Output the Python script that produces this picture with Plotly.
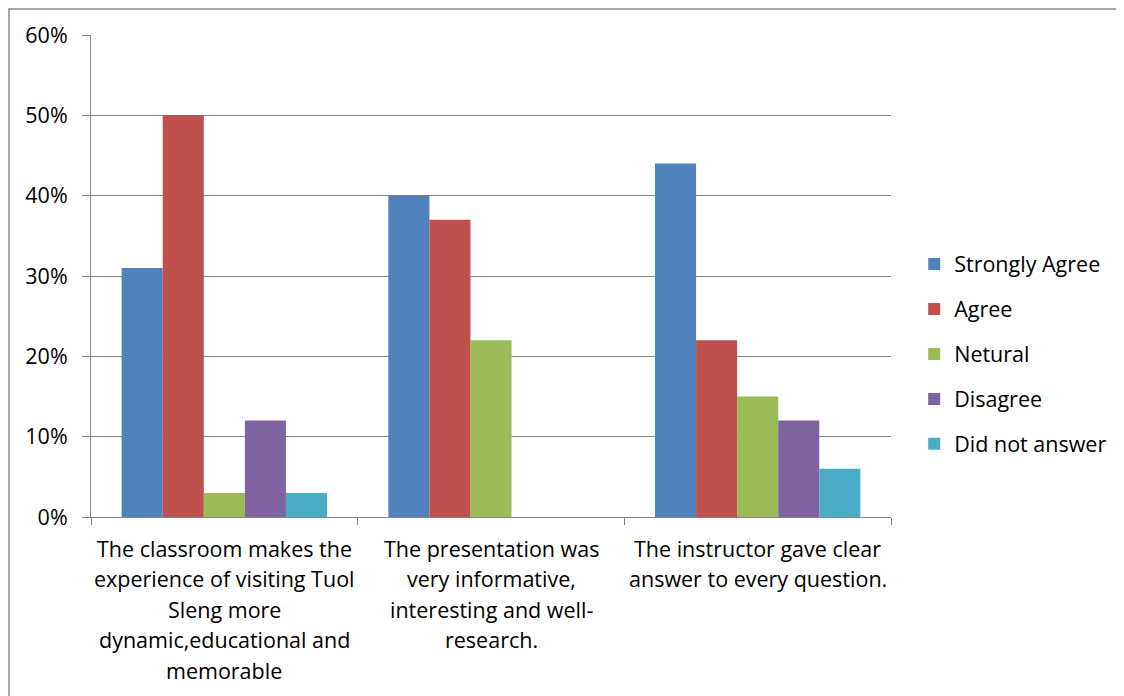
import plotly.graph_objects as go

categories = ["Q1", "Q2", "Q3"]
category_lines = [
    ["The classroom makes the", "experience of visiting Tuol", "Sleng more", "dynamic,educational and", "memorable"],
    ["The presentation was", "very informative,", "interesting and well-", "research."],
    ["The instructor gave clear", "answer to every question."],
]
series_names = ["Strongly Agree", "Agree", "Netural", "Disagree", "Did not answer"]
strongly_agree = [0.31, 0.40, 0.44]
agree = [0.50, 0.37, 0.22]
netural = [0.03, 0.22, 0.15]
disagree = [0.12, 0.0, 0.12]
did_not_answer = [0.03, 0.0, 0.06]
colors = ["#4F81BD", "#C0504D", "#9BBB59", "#8064A2", "#4BACC6"]
y_ticks = [0, 0.1, 0.2, 0.3, 0.4, 0.5, 0.6]

FONT = "'Open Sans', sans-serif"
FS = 21.5
fig = go.Figure()
for i, (name, vals) in enumerate(zip(series_names, [strongly_agree, agree, netural, disagree, did_not_answer])):
    fig.add_trace(go.Bar(x=categories, y=vals, name=name, marker=dict(color=colors[i], line=dict(width=0)),
                         legendgroup=name))

for cat, lines in zip(categories, category_lines):
    for j, line in enumerate(lines):
        fig.add_annotation(x=cat, xref="x", y=0, yref="paper", text=line, showarrow=False,
                           yanchor="middle", xanchor="center", yshift=-31 - 30.5 * j,
                           font=dict(family=FONT, size=FS, color="#000000"))

fig.add_shape(type="rect", xref="paper", yref="paper", x0=-0.1025, x1=1.4, y0=-0.5, y1=1.054,
              line=dict(color="#8C8C8C", width=1.5), fillcolor="rgba(0,0,0,0)", layer="below")

fig.update_layout(
    width=1116, height=688,
    margin=dict(l=83, r=231, t=27, b=179),
    paper_bgcolor="white", plot_bgcolor="white",
    barmode="group", bargap=0.23, bargroupgap=0,
    font=dict(family=FONT, size=FS, color="#000000"),
    legend=dict(x=1.029, y=0.338, xanchor="left", yanchor="middle", tracegroupgap=14,
                font=dict(family=FONT, size=FS), itemwidth=30),
    xaxis=dict(showticklabels=False, ticks="outside", tickson="boundaries", ticklen=7,
               tickcolor="#868686", showline=True, linecolor="#868686", linewidth=1,
               showgrid=False),
    yaxis=dict(range=[0, 0.6], tickvals=y_ticks, tickformat=".0%", ticks="outside", ticklen=8,
               tickcolor="#868686", showline=True, linecolor="#868686", linewidth=1,
               showgrid=True, gridcolor="#868686", gridwidth=1, zeroline=False,
               ticklabelstandoff=10, tickfont=dict(family=FONT, size=FS)),
)
fig.write_html("out.html")
